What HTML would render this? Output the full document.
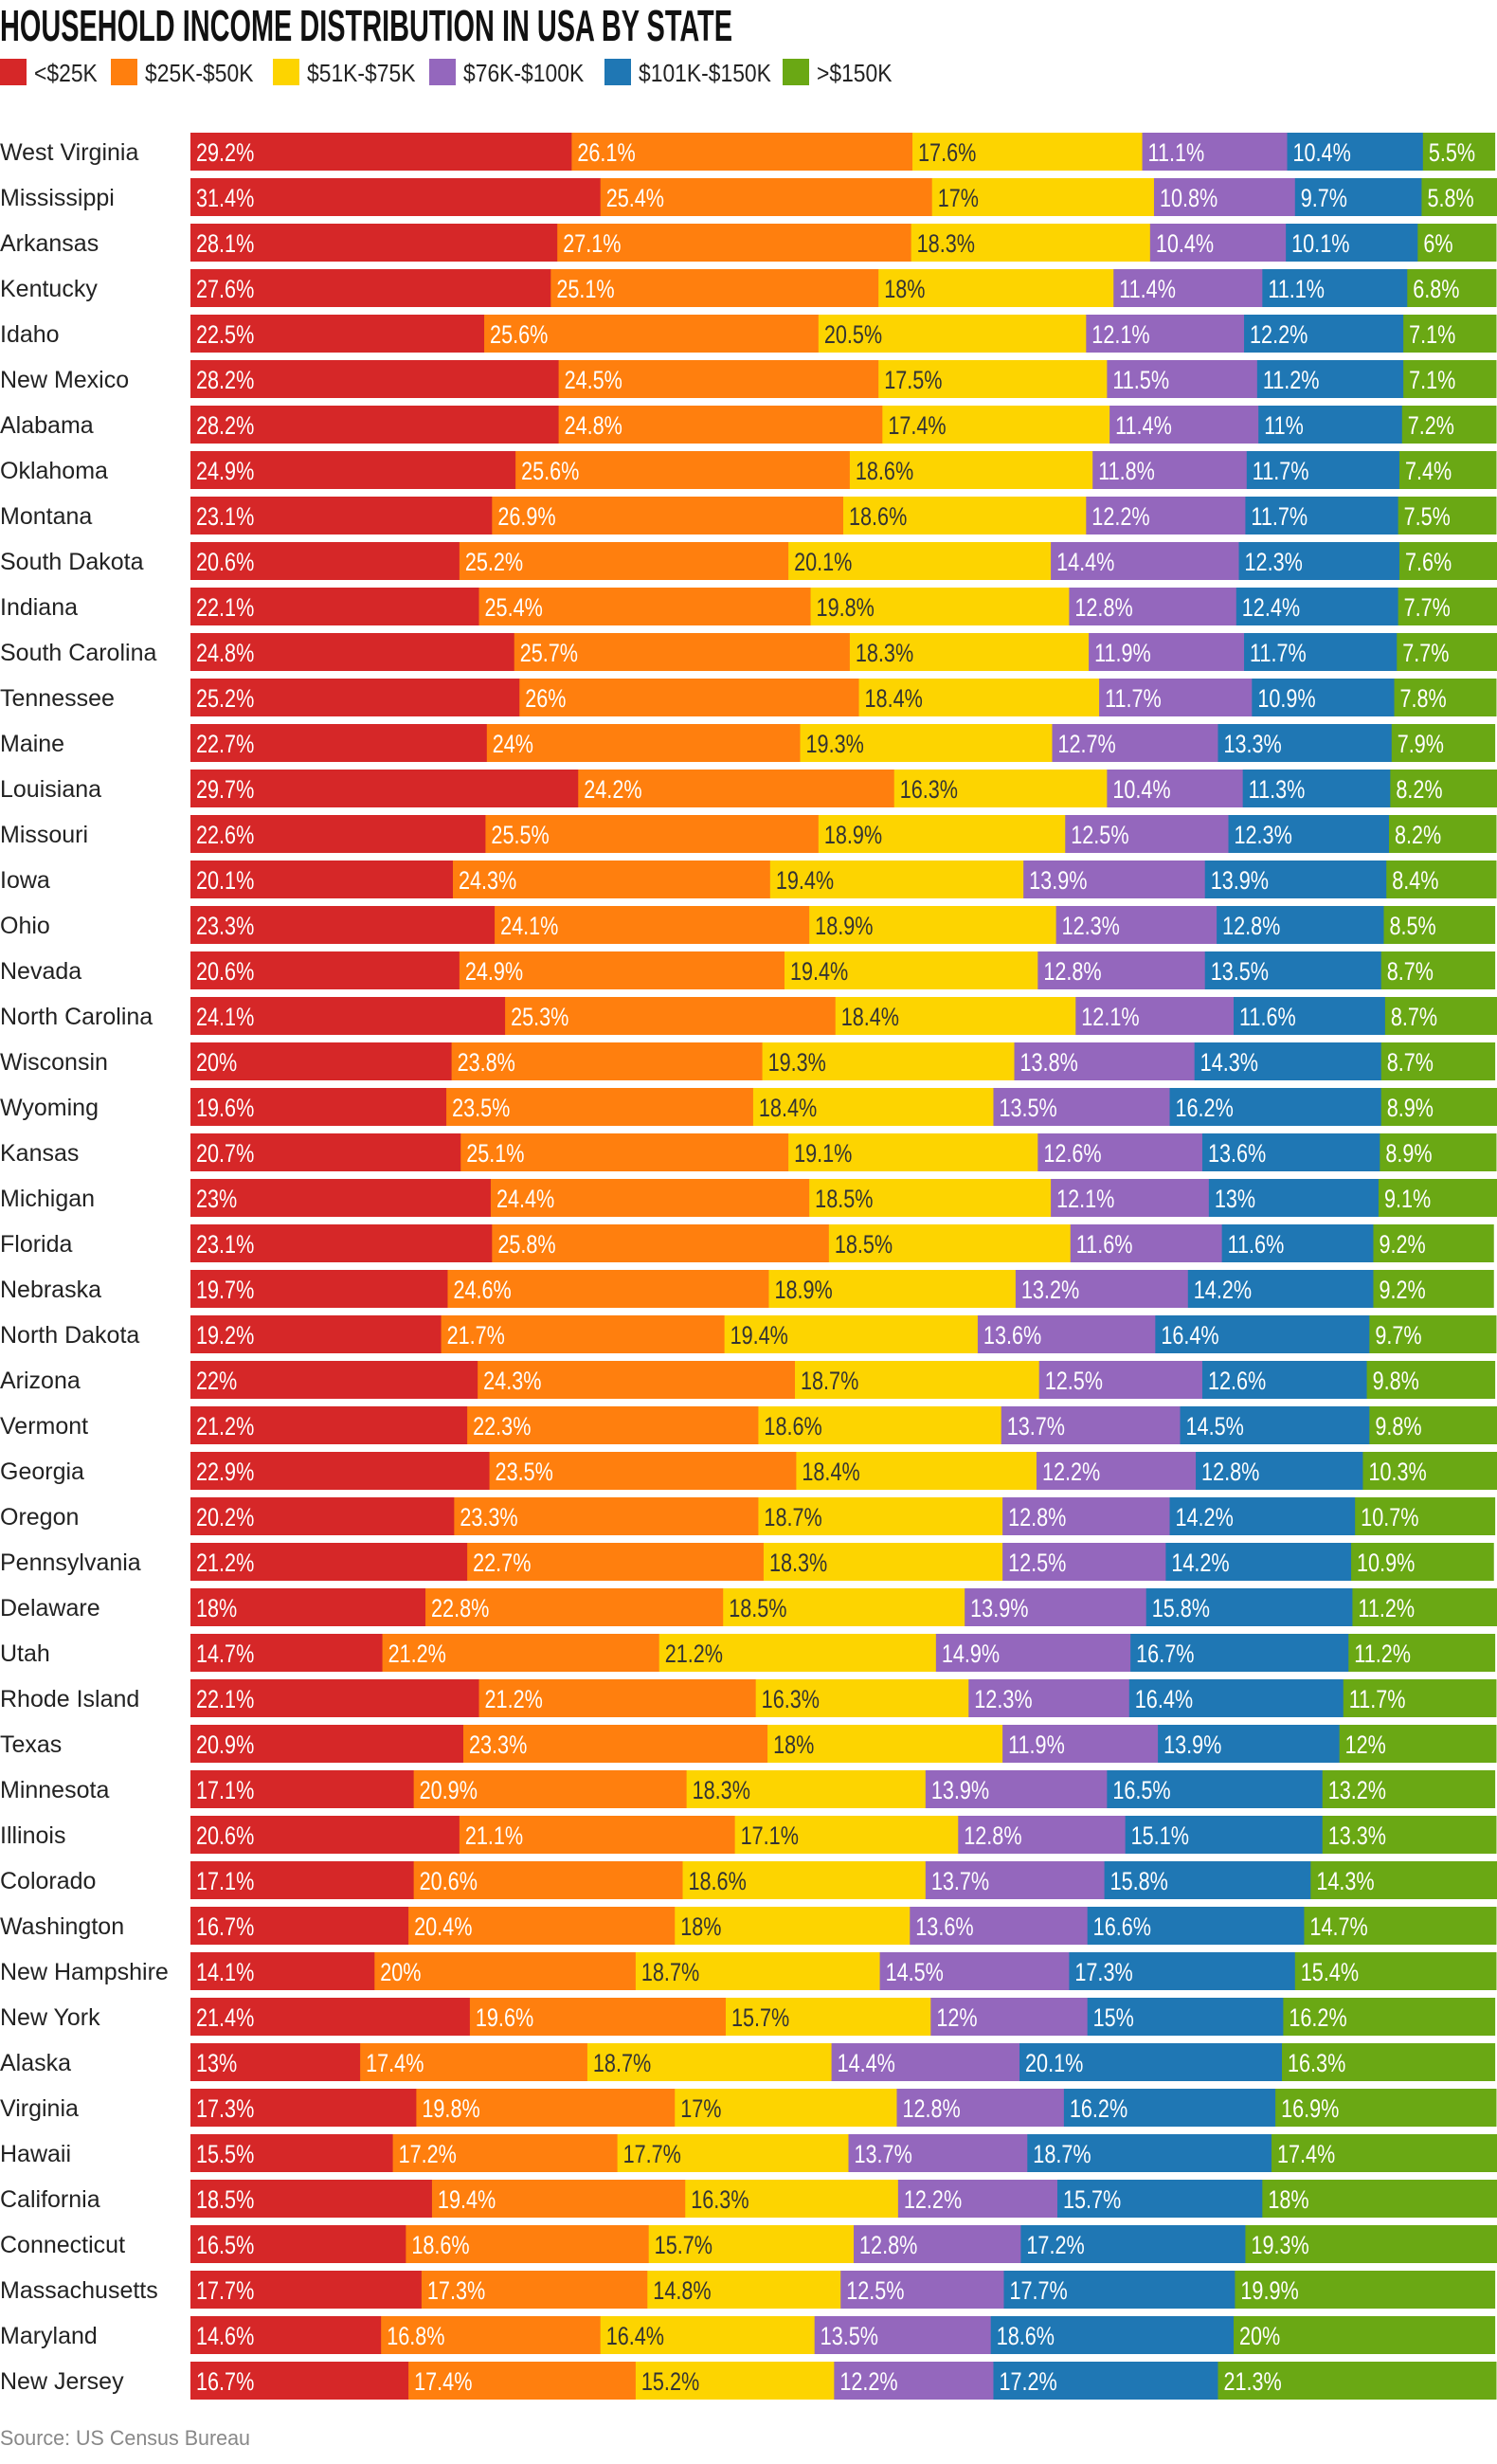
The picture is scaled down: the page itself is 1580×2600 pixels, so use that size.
<!DOCTYPE html>
<html><head><meta charset="utf-8"><style>
html,body{margin:0;padding:0;background:#fff;width:1580px;height:2600px;overflow:hidden}
svg{display:block}
</style></head><body>
<svg id="chart" width="1580" height="2600" xmlns="http://www.w3.org/2000/svg">
<text x="0" y="43" font-family="'Liberation Sans',sans-serif" font-weight="bold" font-size="46" textLength="773" lengthAdjust="spacingAndGlyphs" fill="#111">HOUSEHOLD INCOME DISTRIBUTION IN USA BY STATE</text>
<g id="legend"></g>
<g id="bars"></g>
<text x="0" y="2580" font-family="'Liberation Sans',sans-serif" font-size="22" fill="#888" textLength="264" lengthAdjust="spacingAndGlyphs">Source: US Census Bureau</text>
</svg>
<script>
const states = ["West Virginia","Mississippi","Arkansas","Kentucky","Idaho","New Mexico","Alabama","Oklahoma","Montana","South Dakota","Indiana","South Carolina","Tennessee","Maine","Louisiana","Missouri","Iowa","Ohio","Nevada","North Carolina","Wisconsin","Wyoming","Kansas","Michigan","Florida","Nebraska","North Dakota","Arizona","Vermont","Georgia","Oregon","Pennsylvania","Delaware","Utah","Rhode Island","Texas","Minnesota","Illinois","Colorado","Washington","New Hampshire","New York","Alaska","Virginia","Hawaii","California","Connecticut","Massachusetts","Maryland","New Jersey"];
const under25 = [29.2,31.4,28.1,27.6,22.5,28.2,28.2,24.9,23.1,20.6,22.1,24.8,25.2,22.7,29.7,22.6,20.1,23.3,20.6,24.1,20,19.6,20.7,23,23.1,19.7,19.2,22,21.2,22.9,20.2,21.2,18,14.7,22.1,20.9,17.1,20.6,17.1,16.7,14.1,21.4,13,17.3,15.5,18.5,16.5,17.7,14.6,16.7];
const k25to50 = [26.1,25.4,27.1,25.1,25.6,24.5,24.8,25.6,26.9,25.2,25.4,25.7,26,24,24.2,25.5,24.3,24.1,24.9,25.3,23.8,23.5,25.1,24.4,25.8,24.6,21.7,24.3,22.3,23.5,23.3,22.7,22.8,21.2,21.2,23.3,20.9,21.1,20.6,20.4,20,19.6,17.4,19.8,17.2,19.4,18.6,17.3,16.8,17.4];
const k51to75 = [17.6,17,18.3,18,20.5,17.5,17.4,18.6,18.6,20.1,19.8,18.3,18.4,19.3,16.3,18.9,19.4,18.9,19.4,18.4,19.3,18.4,19.1,18.5,18.5,18.9,19.4,18.7,18.6,18.4,18.7,18.3,18.5,21.2,16.3,18,18.3,17.1,18.6,18,18.7,15.7,18.7,17,17.7,16.3,15.7,14.8,16.4,15.2];
const k76to100 = [11.1,10.8,10.4,11.4,12.1,11.5,11.4,11.8,12.2,14.4,12.8,11.9,11.7,12.7,10.4,12.5,13.9,12.3,12.8,12.1,13.8,13.5,12.6,12.1,11.6,13.2,13.6,12.5,13.7,12.2,12.8,12.5,13.9,14.9,12.3,11.9,13.9,12.8,13.7,13.6,14.5,12,14.4,12.8,13.7,12.2,12.8,12.5,13.5,12.2];
const k101to150 = [10.4,9.7,10.1,11.1,12.2,11.2,11,11.7,11.7,12.3,12.4,11.7,10.9,13.3,11.3,12.3,13.9,12.8,13.5,11.6,14.3,16.2,13.6,13,11.6,14.2,16.4,12.6,14.5,12.8,14.2,14.2,15.8,16.7,16.4,13.9,16.5,15.1,15.8,16.6,17.3,15,20.1,16.2,18.7,15.7,17.2,17.7,18.6,17.2];
const over150 = [5.5,5.8,6,6.8,7.1,7.1,7.2,7.4,7.5,7.6,7.7,7.7,7.8,7.9,8.2,8.2,8.4,8.5,8.7,8.7,8.7,8.9,8.9,9.1,9.2,9.2,9.7,9.8,9.8,10.3,10.7,10.9,11.2,11.2,11.7,12,13.2,13.3,14.3,14.7,15.4,16.2,16.3,16.9,17.4,18,19.3,19.9,20,21.3];
const seriesNames = ["<$25K","$25K-$50K","$51K-$75K","$76K-$100K","$101K-$150K",">$150K"];

const series=[under25,k25to50,k51to75,k76to100,k101to150,over150];
const colors=["#d62728","#ff7f0e","#fdd400","#9467bd","#1f77b4","#6aa814"];
const textColors=["#fff","#fff","#333","#fff","#fff","#fff"];
const legendX=[0,117,288,453,638,826];
const NS="http://www.w3.org/2000/svg";
const X0=201, PX=13.78, Y0=140, PITCH=48, BH=40;
const xScale=v=>v*PX;
const yPos=i=>Y0+i*PITCH;
const bars=document.getElementById('bars');
const legend=document.getElementById('legend');
function mk(tag,attrs){const e=document.createElementNS(NS,tag);for(const k in attrs)e.setAttribute(k,attrs[k]);return e;}
function squeeze(t,f){const w=t.getComputedTextLength();t.setAttribute('textLength',(w*f).toFixed(1));t.setAttribute('lengthAdjust','spacingAndGlyphs');}
seriesNames.forEach((n,j)=>{
  const r=mk('rect',{x:legendX[j],y:62,width:28,height:28,fill:colors[j]});
  
  
  legend.appendChild(r);
  const t=mk('text',{x:legendX[j]+36,y:86,'font-family':"'Liberation Sans',sans-serif",'font-size':26,fill:'#222'});
  t.textContent=n;
  
  
  legend.appendChild(t);
  squeeze(t,0.88);
});
states.forEach((s,i)=>{
  const y=yPos(i);
  const lab=mk('text',{x:0,y:y+29,'font-family':"'Liberation Sans','DejaVu Sans',sans-serif",'font-size':25,fill:'#222'});
  lab.textContent=s;
  
  
  bars.appendChild(lab);
  let x=X0;
  series.forEach((arr,j)=>{
    const w=xScale(arr[i]);
    const r=mk('rect',{x:x,y:y,width:w+0.5,height:BH,fill:colors[j]});
    
    
    bars.appendChild(r);
    const t=mk('text',{x:x+6,y:y+30,'font-family':"'Liberation Sans',sans-serif",'font-size':27,fill:textColors[j]});
    t.textContent=arr[i]+'%';
    
    
    bars.appendChild(t);
    squeeze(t,0.8);
    x+=w;
  });
});
</script>
</body></html>
